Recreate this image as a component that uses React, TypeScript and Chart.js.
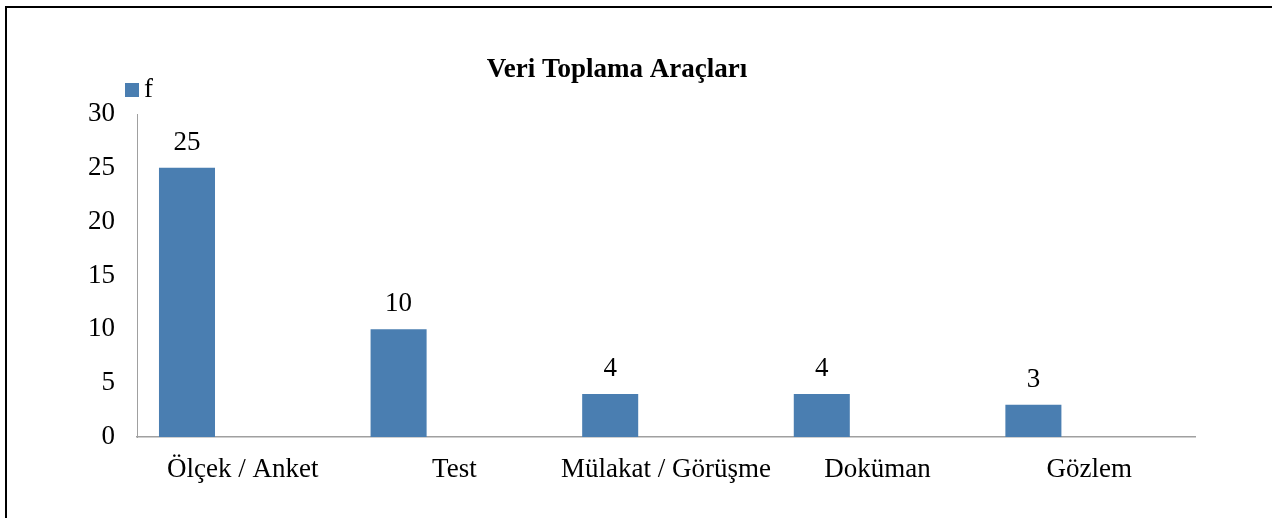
import React, { useEffect, useRef } from "react";
import { Chart, registerables } from "chart.js";

Chart.register(...registerables);

const categories = ["Ölçek / Anket", "Test", "Mülakat / Görüşme", "Doküman", "Gözlem"];
const seriesF = [25, 10, 4, 4, 3];
const seriesEmpty = [null, null, null, null, null];
const yTicks = [0, 5, 10, 15, 20, 25, 30];
const titleText = "Veri Toplama Araçları";
const legendLabel = "f";

const BAR_COLOR = "#4A7EB1";
const FONT = "'Liberation Serif', 'Times New Roman', serif";
const FS = 27;

export default function App() {
  const ref = useRef<HTMLCanvasElement | null>(null);

  useEffect(() => {
    if (!ref.current) return;
    const overlay = {
      id: "overlay",
      afterDatasetsDraw(chart: any) {
        const ctx = chart.ctx;
        ctx.save();
        const meta = chart.getDatasetMeta(0);
        ctx.fillStyle = "#000";
        ctx.font = `${FS}px ${FONT}`;
        ctx.textAlign = "center";
        ctx.textBaseline = "alphabetic";
        meta.data.forEach((bar: any, i: number) => {
          ctx.fillText(String(seriesF[i]), bar.x, bar.y - 18);
        });
        ctx.font = `bold ${FS}px ${FONT}`;
        ctx.fillText(titleText, 617, 77);
        ctx.fillStyle = BAR_COLOR;
        ctx.fillRect(125, 83, 14, 14);
        ctx.fillStyle = "#000";
        ctx.font = `${FS}px ${FONT}`;
        ctx.textAlign = "left";
        ctx.fillText(legendLabel, 144, 97);
        ctx.restore();
      },
    };

    const chart = new Chart(ref.current, {
      type: "bar",
      data: {
        labels: categories,
        datasets: [
          {
            label: legendLabel,
            data: seriesF,
            backgroundColor: BAR_COLOR,
            categoryPercentage: 1.055,
            barPercentage: 0.502,
          },
          {
            label: "",
            data: seriesEmpty as any,
            backgroundColor: "transparent",
            categoryPercentage: 1.055,
            barPercentage: 0.502,
          },
        ],
      },
      options: {
        responsive: false,
        animation: false,
        layout: { padding: { left: 0, top: 114, right: 77, bottom: 0 } },
        plugins: {
          legend: { display: false },
          title: { display: false },
          tooltip: { enabled: false },
        },
        scales: {
          x: {
            grid: { display: false, drawTicks: false },
            border: { display: true, color: "#a0a0a0", width: 1.5 },
            ticks: {
              color: "#000",
              font: { family: FONT, size: FS },
              padding: 17,
              maxRotation: 0,
              autoSkip: false,
            },
            afterFit: (s: any) => {
              s.height = 81;
            },
          },
          y: {
            min: 0,
            max: 30,
            grid: { display: false, drawTicks: false },
            border: { display: true, color: "#a0a0a0", width: 1 },
            ticks: {
              color: "#000",
              font: { family: FONT, size: FS },
              padding: 22,
              stepSize: 5,
              callback: (v: any) => (yTicks.includes(Number(v)) ? String(v) : ""),
            },
            afterFit: (s: any) => {
              s.width = 137;
            },
          },
        },
      },
      plugins: [overlay],
    });
    return () => chart.destroy();
  }, []);

  return (
    <div style={{ position: "fixed", left: 0, top: 0, width: 1272, height: 518, overflow: "hidden", background: "#fff" }}>
      <div
        style={{
          position: "absolute",
          left: 5,
          top: 6,
          width: 1400,
          height: 700,
          border: "2px solid #000",
          boxSizing: "border-box",
        }}
      />
      <canvas ref={ref} width={1272} height={518} style={{ position: "absolute", left: 0, top: 0 }} />
    </div>
  );
}
